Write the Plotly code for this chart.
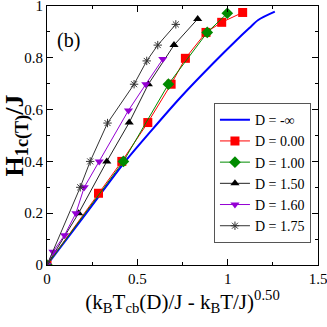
import plotly.graph_objects as go

# D = -inf (continuous curve)
x_inf = [0, 0.2, 0.433, 0.58, 0.736, 0.92, 1.05, 1.12, 1.169, 1.261]
y_inf = [0, 0.184, 0.40, 0.521, 0.645, 0.779, 0.869, 0.915, 0.946, 0.978]

# D = 0.00
x_d0 = [0, 0.285, 0.414, 0.558, 0.687, 0.766, 0.88, 0.967, 1.083]
y_d0 = [0, 0.277, 0.40, 0.55, 0.698, 0.798, 0.898, 0.937, 0.975]

# D = 1.00
x_d1 = [0, 0.423, 0.672, 0.887, 0.998]
y_d1 = [0, 0.40, 0.698, 0.898, 0.972]

# D = 1.50
x_d15 = [0, 0.175, 0.331, 0.455, 0.561, 0.703, 0.834]
y_d15 = [0, 0.20, 0.40, 0.55, 0.698, 0.849, 0.95]

# D = 1.60
x_d16 = [0, 0.033, 0.097, 0.16, 0.206, 0.289, 0.451, 0.547, 0.641]
y_d16 = [0, 0.051, 0.115, 0.20, 0.30, 0.40, 0.597, 0.698, 0.795]

# D = 1.75
x_d175 = [0, 0.184, 0.239, 0.335, 0.482, 0.552, 0.613, 0.713]
y_d175 = [0, 0.30, 0.40, 0.548, 0.698, 0.788, 0.849, 0.929]

FONT = "Liberation Serif"

fig = go.Figure()

fig.add_trace(go.Scatter(
    x=x_inf, y=y_inf, mode="lines", name="D = -\u221e",
    line=dict(color="#0000ff", width=2, shape="spline", smoothing=0.8),
))
fig.add_trace(go.Scatter(
    x=x_d0, y=y_d0, mode="lines+markers", name="D = 0.00",
    line=dict(color="#ff0000", width=1),
    marker=dict(symbol="square", size=9, color="#ff0000"),
))
fig.add_trace(go.Scatter(
    x=x_d1, y=y_d1, mode="lines+markers", name="D = 1.00",
    line=dict(color="#008b00", width=1),
    marker=dict(symbol="diamond", size=9, color="#008b00"),
))
fig.add_trace(go.Scatter(
    x=x_d15, y=y_d15, mode="lines+markers", name="D = 1.50",
    line=dict(color="#222222", width=1),
    marker=dict(symbol="triangle-up", size=8, color="black"),
))
fig.add_trace(go.Scatter(
    x=x_d16, y=y_d16, mode="lines+markers", name="D = 1.60",
    line=dict(color="#9400d3", width=1),
    marker=dict(symbol="triangle-down", size=8, color="#9400d3"),
))
fig.add_trace(go.Scatter(
    x=x_d175, y=y_d175, mode="lines+markers", name="D = 1.75",
    line=dict(color="#333333", width=1),
    marker=dict(symbol="asterisk-open", size=7, color="#333333",
                line=dict(color="#333333", width=1)),
))

fig.add_annotation(
    x=0.12, y=0.865, xref="x", yref="y", text="(b)", showarrow=False,
    font=dict(family=FONT, size=20, color="black"),
)

axis_common = dict(
    showgrid=False, zeroline=False, showline=True, linecolor="black",
    linewidth=1, mirror="ticks", ticks="inside", ticklen=6,
    tickcolor="black", tickfont=dict(family=FONT, size=15, color="black"),
    automargin=False, ticklabeloverflow="allow",
)

fig.update_xaxes(
    range=[0, 1.5], tickvals=[0, 0.5, 1, 1.5], ticktext=["0", "0.5", "1", "1.5"],
    minor=dict(dtick=0.25, tick0=0, ticks="inside", ticklen=3, tickcolor="black"),
    title=dict(
        text="(k<sub>B</sub>T<sub>cb</sub>(D)/J - k<sub>B</sub>T/J)<sup>0.50</sup>",
        font=dict(family=FONT, size=21, color="black"), standoff=4,
    ),
    **axis_common,
)
fig.update_yaxes(
    range=[0, 1], tickvals=[0, 0.2, 0.4, 0.6, 0.8, 1],
    ticktext=["0", "0.2", "0.4", "0.6", "0.8", "1"],
    minor=dict(dtick=0.1, tick0=0, ticks="inside", ticklen=3, tickcolor="black"),
    title=dict(
        text="<b>H<sub>1c(T)</sub>/J</b>" + "\u00a0" * 6,
        font=dict(family=FONT, size=26, color="black"), standoff=0,
    ),
    **axis_common,
)

fig.update_layout(
    width=327, height=327,
    margin=dict(l=47, r=9, t=6, b=62, autoexpand=False),
    plot_bgcolor="white", paper_bgcolor="white",
    hovermode=False,
    legend=dict(
        x=0.974, y=0.625, xanchor="right", yanchor="top",
        bgcolor="white", bordercolor="#555555", borderwidth=1,
        font=dict(family=FONT, size=14, color="black"),
        itemwidth=30, tracegroupgap=0,
    ),
)

fig.write_html(
    "out.html",
    config={"displayModeBar": False},
    post_script="document.body.style.margin='0px';",
)
